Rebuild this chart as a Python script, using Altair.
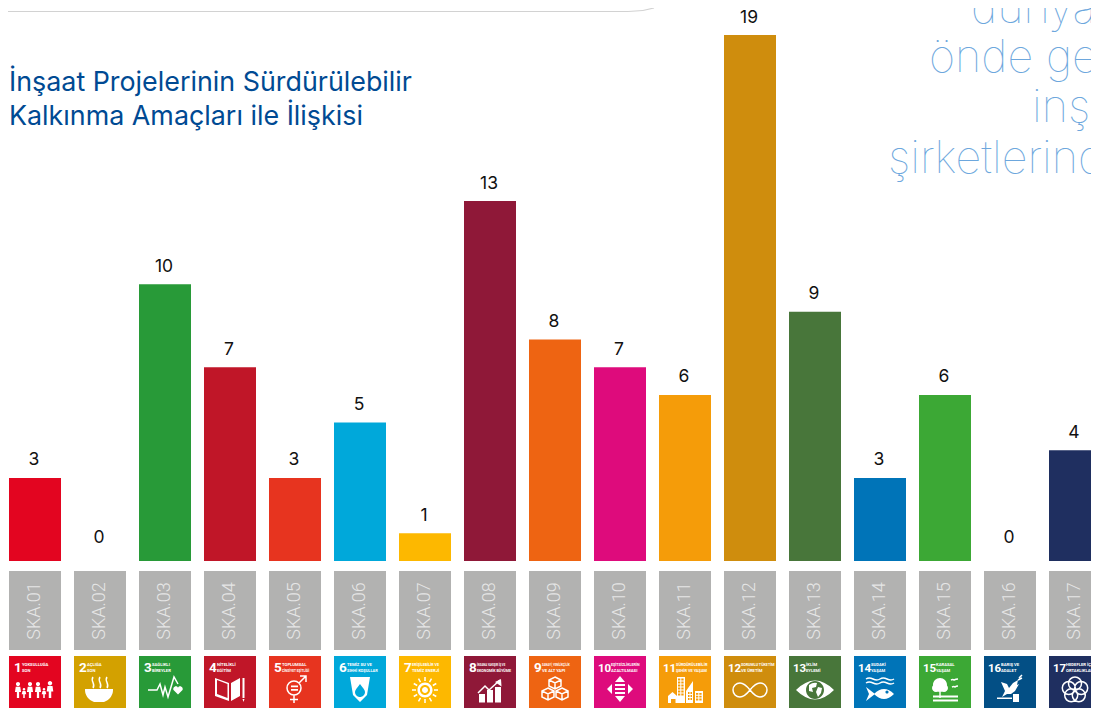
import math
import altair as alt
import pandas as pd

CODES = [f"SKA.{i:02d}" for i in range(1, 18)]
VALUES = [3, 0, 10, 7, 3, 5, 1, 13, 8, 7, 6, 19, 9, 3, 6, 0, 4]
NUMBERS = [str(i) for i in range(1, 18)]
COLORS = ["#e30520", "#d3a100", "#289a38", "#c01628", "#e7341f", "#00a8da", "#fdb800", "#8f1838", "#ee6412",
          "#de0b7c", "#f59c09", "#cf8d0d", "#48763a", "#0074b8", "#3ca835", "#034f85", "#1f2f60"]
CAP1 = ["YOKSULLUĞA", "AÇLIĞA", "SAĞLIKLI", "NİTELİKLİ", "TOPLUMSAL", "TEMİZ SU VE", "ERİŞİLEBİLİR VE",
        "İNSANA YAKIŞIR İŞ VE", "SANAYİ, YENİLİKÇİLİK", "EŞİTSİZLİKLERİN", "SÜRDÜRÜLEBİLİR", "SORUMLU TÜKETİM",
        "İKLİM", "SUDAKİ", "KARASAL", "BARIŞ VE", "HEDEFLER İÇİN"]
CAP2 = ["SON", "SON", "BİREYLER", "EĞİTİM", "CİNSİYET EŞİTLİĞİ", "SIHHİ KOŞULLAR", "TEMİZ ENERJİ",
        "EKONOMİK BÜYÜME", "VE ALT YAPI", "AZALTILMASI", "ŞEHİR VE YAŞAM", "VE ÜRETİM",
        "EYLEMİ", "YAŞAM", "YAŞAM", "ADALET", "ORTAKLIKLAR"]
TITLE_LINES = ["İnşaat Projelerinin Sürdürülebilir", "Kalkınma Amaçları ile İlişkisi"]
SIDE_LINES = ["dünyanın", "önde gelen", "inşaat", "şirketlerinde"]


# pictogram glyphs: outlines in px around the icon centre (symbol size 4 = scale 1)
def circ(x, y, r, hole=False):
    s = 0 if hole else 1
    return f"M{x-r} {y}A{r} {r} 0 1 {s} {x+r} {y}A{r} {r} 0 1 {s} {x-r} {y}Z"


def rect(x, y, w, h, hole=False):
    if hole:
        return f"M{x} {y}V{y+h}H{x+w}V{y}Z"
    return f"M{x} {y}H{x+w}V{y+h}H{x}Z"


def person(x, top, h, w):
    r = h * 0.13
    return (circ(x, top + r, r) +
            f"M{x-w/2} {top+2*r+.5}H{x+w/2}L{x+w/2+.8} {top+h*.62}H{x+w/4}V{top+h}H{x-w/4}V{top+h*.62}H{x-w/2-.8}Z")


def cube(x, y, s):
    return (f"M{x} {y-s}L{x+s} {y-s/2}V{y+s/2}L{x} {y+s}L{x-s} {y+s/2}V{y-s/2}Z"
            f"M{x-s} {y-s/2}L{x} {y}L{x+s} {y-s/2}M{x} {y}V{y+s}")


def wave(y):
    return f"M-14 {y}Q-11 {y-2} -7 {y}T0 {y}T7 {y}T14 {y}"


def heart(x, y, s):
    return f"M{x} {y+s}L{x-s} {y}A{s/2} {s/2} 0 0 1 {x} {y-s/2}A{s/2} {s/2} 0 0 1 {x+s} {y}Z"


def rays(cx, cy, r0, r1, n):
    out = ""
    for k in range(n):
        a = 2 * math.pi * k / n
        out += f"M{cx+r0*math.cos(a):.2f} {cy+r0*math.sin(a):.2f}L{cx+r1*math.cos(a):.2f} {cy+r1*math.sin(a):.2f}"
    return out


def windows(x, y, cols, rows, w, h, gap):
    return "".join(rect(x + c * (w + gap), y + r * (h + gap), w, h, True) for c in range(cols) for r in range(rows))


FILLED = [
    person(-17, 0, 16, 4.5) + person(-11, 6, 10, 3) + person(-5, 0, 16, 4.5) + person(3, 0, 16, 4.5) + person(9, 6, 10, 3) + person(15, -1, 17, 5),
    "M-15 7H13A14 13 0 0 1 4 20H-6A14 13 0 0 1 -15 7Z",
    heart(13, 8, 4.5),
    "M-15 -4L-1 1V19L-15 14ZM-13 -2V12L-2.5 16V2ZM1 1L10 -4V14L1 19Z" + rect(12.5, -4, 2, 20) + "M12.5 17H14.5L13.5 20Z",
    rect(-4, 3.5, 7, 1.8) + rect(-4, 7, 7, 1.8),
    "M-10 -5H10L7 13L0 20L-7 13Z" + "M0 2C-3 6 -5 8 -5 10A5 5 0 0 0 5 10C5 8 3 6 0 2Z",
    circ(0, 8, 7.5) + circ(0, 8, 5, True) + circ(0, 8, 3),
    rect(-11, 12, 6, 8.5) + rect(-3, 8, 6, 12.5) + rect(5, 5, 6, 15.5) + "M11 -3L11.5 4.5L5 0Z",
    "",
    "M0 -6L5 0H-5ZM0 20L5 14H-5ZM-13 7L-8 2V12ZM13 7L8 2V12Z" + rect(-5, 2, 10, 2) + rect(-5, 6, 10, 2) + rect(-5, 10, 10, 2),
    "M-17 14L-12.5 10L-8 14V21H-9.5V17H-14V21H-17Z"
    + rect(-8, -5, 8, 26) + windows(-7, -3.5, 2, 6, 2.3, 2, 1)
    + "M1 21V9L8 -1V21Z" + windows(3, 10, 2, 3, 1.5, 2, 1)
    + rect(10, 9, 8, 12) + windows(11, 11, 2, 3, 2.3, 1.8, 1),
    "",
    "M-19 8Q0 -11 19 8Q0 27 -19 8Z" + circ(0, 8, 9, True) + "M-6 3Q-2 0 2 1L1 5L-3 6L-2 10L-6 9ZM3 5L7 6L6 11L3 15L1 10Z",
    "M-6 12Q4 2 14 12Q4 22 -6 12Z" + "M-14 5L-5 12L-14 19L-11 12Z" + circ(7, 10, 1.6, True),
    circ(-5, 3, 7) + circ(-9, 6, 4) + circ(-1, 6, 4) + rect(-5.7, 8, 1.4, 8) + rect(-12, 13.5, 25, 2) + rect(-12, 17.5, 25, 2),
    "M-9 0L-3 2L-1 6L3 1L8 -2L7 3L9 2L5 9L1 12L-3 12L-8 15L-5 9Z" + rect(-13, 15.5, 15, 1.5) + rect(3, 12, 6, 8),
    "",
]
STROKED = [
    "",
    "M-7 -5C-10 -1 -4 2 -7 6M0 -5C-3 -1 3 2 0 6M7 -5C4 -1 10 2 7 6",
    "M-17 8H-8L-5 2L-2 13L0 5L3 15L9 -5L13 2",
    "",
    circ(-1, 6, 7) + "M4 1L11 -6M5 -6H11V0M-1 13V21M-5 17.5H3",
    "",
    rays(0, 8, 9, 13, 12),
    "M-12 11L-5 4L-1 8L10 -2",
    cube(0, 1, 6) + cube(-7, 12, 6) + cube(7, 12, 6),
    "",
    "",
    "M0 8C-4 3 -7 1 -10 1A7 7 0 0 0 -10 15C-7 15 -4 13 0 8C4 3 7 1 10 1A7 7 0 0 1 10 15C7 15 4 13 0 8Z",
    "",
    wave(-3) + wave(1),
    "M6 -2Q8 -3 9 -2Q11 -3 13 -3M7 5Q9 4 10 5Q11 4 13 4",
    "M9 -4L12 -7M8 -2L12 -4",
    circ(0, 1.5, 6.5) + circ(-6.2, 6, 6.5) + circ(6.2, 6, 6.5) + circ(-3.8, 13.3, 6.5) + circ(3.8, 13.3, 6.5),
]

df = pd.DataFrame({"code": CODES, "value": VALUES, "num": NUMBERS, "cap1": CAP1, "cap2": CAP2,
                   "filled": FILLED, "stroked": STROKED})
df["two"] = df["num"].str.len() > 1
# shrink long captions so that they stay inside the coloured square
df["fs1"] = [min(4.2, 33 / (0.6 * len(t))) for t in CAP1]
df["fs2"] = [min(4.2, 33 / (0.6 * len(t))) for t in CAP2]

X = alt.X("code:N", sort=CODES, axis=None,
          scale=alt.Scale(domain=CODES, range=[1, 1093], paddingInner=0.2, paddingOuter=0))
Y = alt.Y("value:Q", axis=None, scale=alt.Scale(domain=[0, 19], range=[553, 27]))
C = alt.Color("code:N", legend=None, scale=alt.Scale(domain=CODES, range=COLORS))
base = alt.Chart(df)
CAPS = "Roboto"

bars = base.mark_bar(clip=True).encode(x=X, y=Y, color=C)
val_lab = (base.transform_filter("datum.value > 0")
           .mark_text(font="Inter", fontSize=17.5, color="#111111", baseline="alphabetic", dx=-1, dy=-12.5, clip=True)
           .encode(x=X, y=Y, text="value:Q"))
zero_lab = (base.transform_filter("datum.value == 0")
            .mark_text(font="Inter", fontSize=17.5, color="#111111", baseline="alphabetic", dx=-1, dy=-18.5, clip=True)
            .encode(x=X, y=Y, text="value:Q"))
panels = base.mark_rect(color="#b2b2b1", clip=True).encode(x=X, y=alt.value(563), y2=alt.value(642))
panel_txt = base.mark_text(font=CAPS, fontWeight=300, fontSize=18, color="#e6e6e6", angle=270, align="center",
                           baseline="middle", clip=True).encode(x=X, y=alt.value(603), text="code:N")
icons = base.mark_rect(clip=True).encode(x=X, y=alt.value(648), y2=alt.value(700), color=C)
W = dict(font=CAPS, fontWeight="bold", color="white", align="left", baseline="alphabetic", clip=True)
num1 = base.transform_filter("!datum.two").mark_text(fontSize=13.5, dx=-21, **W).encode(x=X, y=alt.value(664), text="num:N")
num2 = base.transform_filter("datum.two").mark_text(fontSize=11.5, dx=-22, **W).encode(x=X, y=alt.value(664), text="num:N")
cap = []
for flag, dx in (("!datum.two", -13), ("datum.two", -9)):
    for field, fs, yy in (("cap1", "fs1", 657.5), ("cap2", "fs2", 664)):
        cap.append(base.transform_filter(flag).mark_text(dx=dx, **W)
                   .encode(x=X, y=alt.value(yy), text=f"{field}:N", size=alt.Size(f"{fs}:Q", scale=None)))
glyph_f = (base.transform_filter("datum.filled != ''")
           .mark_point(filled=True, fill="white", size=4, opacity=1, strokeWidth=0, clip=True)
           .encode(x=X, y=alt.value(674), shape=alt.Shape("filled:N", scale=None)))
glyph_s = (base.transform_filter("datum.stroked != ''")
           .mark_point(filled=False, stroke="white", size=4, opacity=1, strokeWidth=1.5, clip=True)
           .encode(x=X, y=alt.value(674), shape=alt.Shape("stroked:N", scale=None)))

titles = [alt.Chart(pd.DataFrame({"t": [t]})).mark_text(
    font="Inter", fontSize=26.85, color="#004a93", align="left", baseline="alphabetic"
).encode(x=alt.value(1), y=alt.value(yy), text="t:N") for t, yy in zip(TITLE_LINES, (82.5, 117))]
sides = [alt.Chart(pd.DataFrame({"t": [t]})).mark_text(
    font="Inter", fontWeight=100, fontSize=45, color="#6da7dd", align="left", baseline="alphabetic", clip=True
).encode(x=alt.value(xx), y=alt.value(yy), text="t:N")
    for t, xx, yy in zip(SIDE_LINES, (963, 921, 1024, 880), (15, 64, 114, 165))]

frame = [
    alt.Chart(df.head(1)).mark_rule(color="#d2d2d2", strokeWidth=1.2).encode(
        x=alt.value(0), x2=alt.value(620), y=alt.value(3.5), y2=alt.value(3.5)),
    alt.Chart(df.head(1)).mark_rule(color="#d2d2d2", strokeWidth=1.2).encode(
        x=alt.value(620), x2=alt.value(635), y=alt.value(3.5), y2=alt.value(2.5)),
    alt.Chart(df.head(1)).mark_rule(color="#d2d2d2", strokeWidth=1.2).encode(
        x=alt.value(635), x2=alt.value(646), y=alt.value(2.5), y2=alt.value(0)),
]

chart = alt.layer(*frame, bars, val_lab, zero_lab, panels, panel_txt, icons, num1, num2, *cap, glyph_f, glyph_s,
                  *titles, *sides).properties(
    width=1083, height=702, padding=0, autosize=alt.AutoSizeParams(type="none"),
    background="white").configure_view(stroke=None)

chart.save("out.html", embed_options={"renderer": "svg", "actions": False})
